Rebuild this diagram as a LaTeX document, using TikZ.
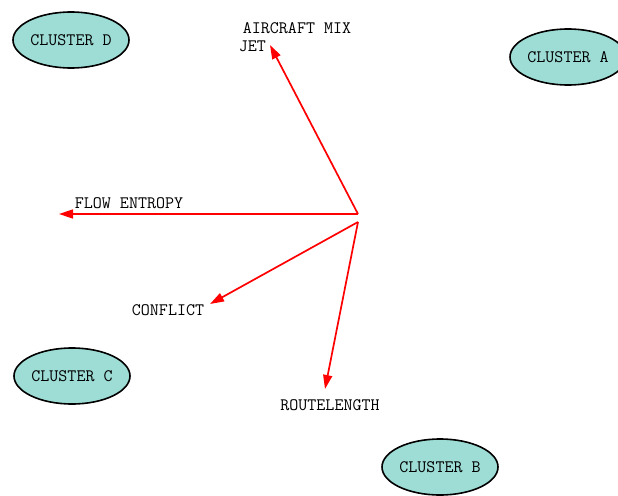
\documentclass[tikz,border=0pt]{standalone}
\usetikzlibrary{shapes.geometric,arrows.meta}
\definecolor{clusterfill}{RGB}{158,221,214}
\begin{document}
\begin{tikzpicture}
    [
    x=1pt,y=-1pt,
    cluster/.style={ellipse,draw=black,line width=1.6pt,fill=clusterfill,
      minimum width=116pt,minimum height=56pt,inner sep=0pt,
      font=\ttfamily\fontsize{17.5}{18}\selectfont},
    var/.style={inner sep=0pt,font=\ttfamily\fontsize{17.5}{18}\selectfont},
    vec/.style={draw=red,line width=1.7pt,-{Triangle[length=14pt,width=9pt]}}
    ]
    \useasboundingbox (0,0) rectangle (618,495);
    \node (d) at (71,40) [cluster] {CLUSTER D};
    \node (a) at (568,57) [cluster] {CLUSTER A};
    \node (c) at (72,376) [cluster] {CLUSTER C};
    \node (b) at (440,467) [cluster] {CLUSTER B};
    \coordinate (o1) at (358,214);
    \coordinate (o2) at (358,222);
    \node (mix) at (295,37) [var,align=left] {\hspace{4pt}AIRCRAFT MIX\\JET};
    \node (flow) at (129,203) [var] {FLOW ENTROPY};
    \node (conf) at (168,310) [var] {CONFLICT};
    \node (route) at (330,405) [var] {ROUTELENGTH};
    \coordinate (tmix) at (270,45);
    \coordinate (tflow) at (59,214);
    \coordinate (tconf) at (210,304);
    \coordinate (troute) at (325,389);
    \draw [vec] (o1) to (tmix);
    \draw [vec] (o1) to (tflow);
    \draw [vec] (o2) to (tconf);
    \draw [vec] (o2) to (troute);
  \end{tikzpicture}
\end{document}
